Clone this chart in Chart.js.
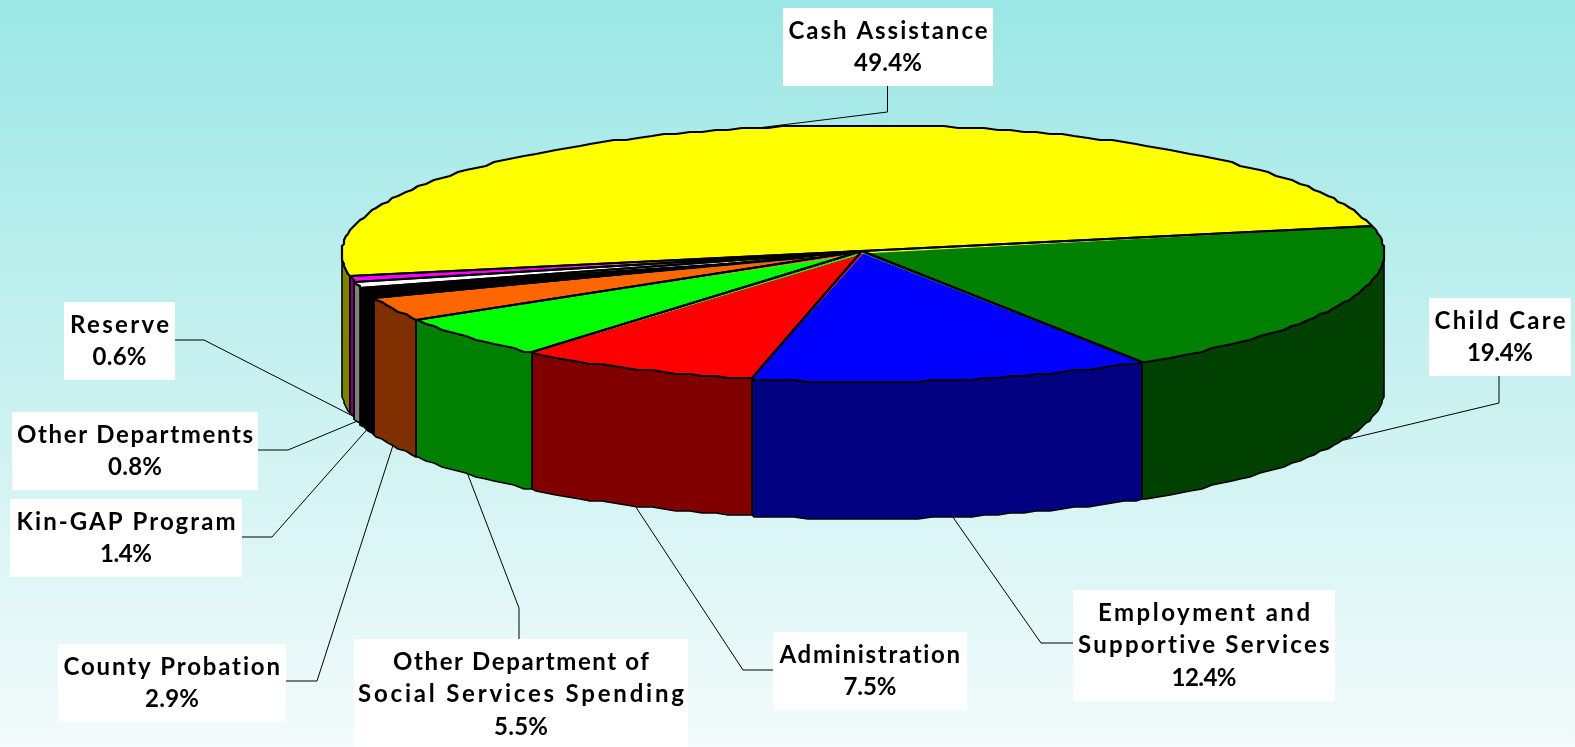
<!DOCTYPE html>
<html>
<head>
<meta charset="utf-8">
<title>Spending by category</title>
<script src="https://cdn.jsdelivr.net/npm/chart.js@4/dist/chart.umd.min.js"></script>
<style>
    html, body { margin: 0; padding: 0; overflow: hidden; }
    body { width: 1575px; height: 747px; background: linear-gradient(to bottom, #9be7e5 0%, #f3fbfb 100%); }
    canvas { display: block; }
</style>
</head>
<body>
<canvas id="pie" width="1575" height="747"></canvas>
<script>
const categories = ['Cash Assistance', 'Child Care', 'Employment and Supportive Services', 'Administration',
    'Other Department of Social Services Spending', 'County Probation', 'Kin-GAP Program', 'Other Departments', 'Reserve'];
const shares = [49.4, 19.4, 12.4, 7.5, 5.5, 2.9, 1.4, 0.8, 0.6];

const topColors = ['#ffff00', '#008000', '#0000ff', '#ff0000', '#00ff00', '#ff6600', '#000000', '#ffffff', '#ff00ff'];
const wallColors = ['#808000', '#004000', '#000080', '#800000', '#008000', '#803000', '#000000', '#808080', '#800080'];

// wrapped label text, one entry per category
const labelLines = [
    ['Cash Assistance'], ['Child Care'], ['Employment and', 'Supportive Services'], ['Administration'],
    ['Other Department of', 'Social Services Spending'], ['County Probation'], ['Kin-GAP Program'],
    ['Other Departments'], ['Reserve']
];
// printed width of each line, the percent line comes last
const lineWidths = [[199, 68], [131, 66], [212, 252, 65], [181, 53], [256, 326, 54], [217, 54], [219, 52], [236, 54], [99, 54]];
// label boxes: x, y, w, h
const labelBoxes = [
    [783, 8, 210, 78], [1429, 298, 142, 78], [1073, 590, 262, 111], [773, 632, 194, 78],
    [354, 639, 334, 108], [58, 644, 228, 78], [10, 499, 232, 78], [12, 412, 246, 78], [64, 302, 111, 78]
];
// leader line from the box edge through an elbow, it then runs to the slice
const leaderStarts = [[887.5, 86], [1499, 376], [1073, 643], [773, 670], [519, 639], [286, 681], [242, 537], [258, 450], [175, 340]];
const leaderElbows = [[887.5, 112], [1499, 403], [1041, 643], [743, 670], [519, 608], [317, 681], [272, 537], [288, 450], [204, 340]];

// ellipse of the pie top and the height of the side wall
const pieX = 863, pieY = 253.5, pieA = 521, pieB = 128.5, pieDepth = 137;
const STEP = 1.5 * Math.PI / 180;

function rimPoint(t, dy) {
    // rounded to a coarse grid so the rim has the stepped look of a plotted outline
    const x = Math.round((pieX + pieA * Math.cos(t)) / 2) * 2;
    const y = Math.round((pieY + pieB * Math.sin(t)) / 2) * 2;
    return [x, y + dy];
}

function traceRim(ctx, from, to, dy) {
    const dir = to >= from ? 1 : -1;
    let p = rimPoint(from, dy);
    ctx.lineTo(p[0], p[1]);
    let k = dir > 0 ? Math.floor(from / STEP) + 1 : Math.ceil(from / STEP) - 1;
    while ((k * STEP - to) * dir < 0) {
        p = rimPoint(k * STEP, dy);
        ctx.lineTo(p[0], p[1]);
        k += dir;
    }
    p = rimPoint(to, dy);
    ctx.lineTo(p[0], p[1]);
}

function drawWalls(chart) {
    const ctx = chart.ctx;
    chart.getDatasetMeta(0).data.forEach((arc, i) => {
        [0, Math.PI * 2].forEach(shift => {
            const s = Math.max(arc.startAngle + shift, 0);
            const e = Math.min(arc.endAngle + shift, Math.PI);
            if (s >= e) return;
            ctx.beginPath();
            traceRim(ctx, s, e, 0);
            traceRim(ctx, e, s, pieDepth);
            ctx.closePath();
            ctx.fillStyle = wallColors[i];
            ctx.fill();
            ctx.lineWidth = 1.6;
            ctx.strokeStyle = '#000';
            ctx.lineJoin = 'round';
            ctx.stroke();
        });
    });
}

function drawTopOutline(chart) {
    const ctx = chart.ctx;
    chart.getDatasetMeta(0).data.forEach(arc => {
        ctx.beginPath();
        ctx.moveTo(pieX - 1, pieY - 2.5);
        traceRim(ctx, arc.startAngle, arc.endAngle, 0);
        ctx.closePath();
        ctx.lineWidth = 2.2;
        ctx.strokeStyle = '#000';
        ctx.lineJoin = 'round';
        ctx.stroke();
    });
}

function drawFittedText(ctx, text, centerX, centerY, width) {
    ctx.letterSpacing = '0px';
    const natural = ctx.measureText(text).width;
    const gap = text.length > 1 ? (width - natural) / (text.length - 1) : 0;
    ctx.letterSpacing = gap.toFixed(2) + 'px';
    ctx.fillText(text, centerX - width / 2, centerY);
    ctx.letterSpacing = '0px';
}

function drawLabels(chart) {
    const ctx = chart.ctx;
    const arcs = chart.getDatasetMeta(0).data;
    categories.forEach((name, i) => {
        // leaders end on the rim at the middle of the slice
        const mid = (arcs[i].startAngle + arcs[i].endAngle) / 2;
        const front = Math.sin(mid) > 0;
        const end = [pieX + pieA * Math.cos(mid), pieY + pieB * Math.sin(mid) + (front ? pieDepth : 0)];
        ctx.beginPath();
        ctx.moveTo(leaderStarts[i][0], leaderStarts[i][1]);
        ctx.lineTo(leaderElbows[i][0], leaderElbows[i][1]);
        ctx.lineTo(end[0], end[1]);
        ctx.lineWidth = 1;
        ctx.strokeStyle = '#000';
        ctx.stroke();

        const box = labelBoxes[i];
        ctx.fillStyle = '#fff';
        ctx.fillRect(box[0], box[1], box[2], box[3]);

        const lines = labelLines[i].concat(shares[i].toFixed(1) + '%');
        ctx.fillStyle = '#000';
        ctx.font = 'bold 24px Lato, "Open Sans", sans-serif';
        ctx.textAlign = 'left';
        ctx.textBaseline = 'middle';
        lines.forEach((line, n) => {
            drawFittedText(ctx, line, box[0] + box[2] / 2, box[1] + 23 + n * 32.5, lineWidths[i][n]);
        });
    });
}

const pie3d = {
    id: 'pie3d',
    beforeDatasetsDraw(chart) {
        drawWalls(chart);
        // the library draws the slices as a circle, squash it onto the top ellipse
        const ctx = chart.ctx;
        const arc = chart.getDatasetMeta(0).data[0];
        ctx.save();
        ctx.translate(pieX, pieY);
        ctx.scale(pieA / arc.outerRadius, pieB / arc.outerRadius);
        ctx.translate(-arc.x, -arc.y);
    },
    afterDatasetsDraw(chart) {
        chart.ctx.restore();
        drawTopOutline(chart);
    },
    afterDraw(chart) {
        drawLabels(chart);
    }
};

new Chart(document.getElementById('pie'), {
    type: 'pie',
    data: {
        labels: categories,
        datasets: [{ data: shares, backgroundColor: topColors, borderWidth: 0, clip: false }]
    },
    options: {
        responsive: false,
        animation: false,
        rotation: -100.2,
        events: [],
        plugins: { legend: { display: false }, tooltip: { enabled: false } }
    },
    plugins: [pie3d]
});
</script>
</body>
</html>
